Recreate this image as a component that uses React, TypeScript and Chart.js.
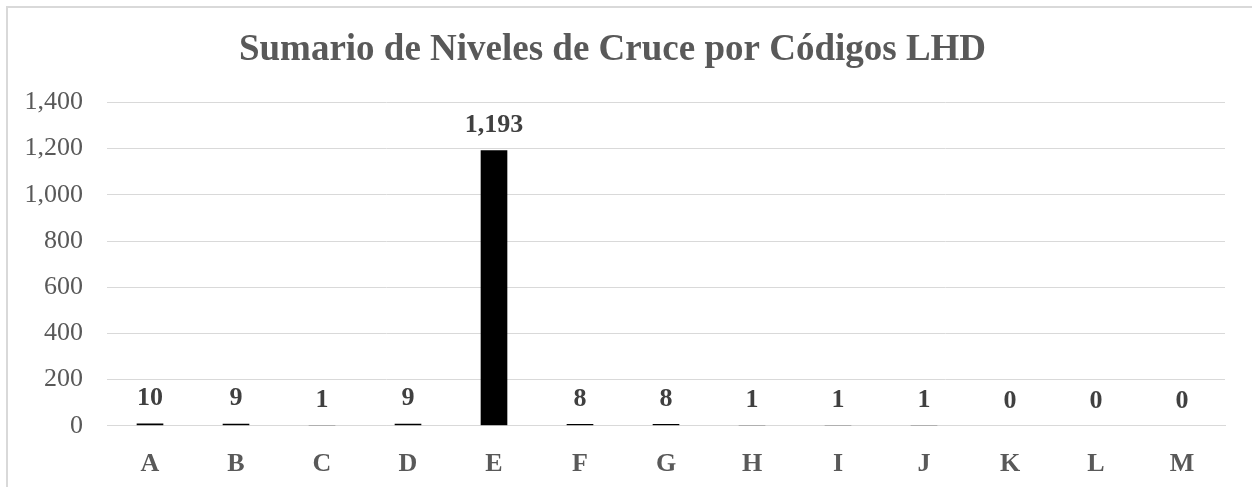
import React, { useEffect, useRef } from "react";
import { Chart, registerables } from "chart.js";

Chart.register(...registerables);

const categories = ["A", "B", "C", "D", "E", "F", "G", "H", "I", "J", "K", "L", "M"];
const values = [10, 9, 1, 9, 1193, 8, 8, 1, 1, 1, 0, 0, 0];
const yTicks = [0, 200, 400, 600, 800, 1000, 1200, 1400];
const chartTitle = "Sumario de Niveles de Cruce por Códigos LHD";

const FONT = "'Liberation Serif', 'Times New Roman', serif";

const dataLabelPlugin = {
  id: "dataLabels",
  afterDatasetsDraw(chart: any) {
    const ctx = chart.ctx;
    const meta = chart.getDatasetMeta(0);
    ctx.save();
    ctx.font = `bold 26px ${FONT}`;
    ctx.fillStyle = "#404040";
    ctx.textAlign = "center";
    ctx.textBaseline = "middle";
    meta.data.forEach((bar: any, i: number) => {
      const v = values[i];
      ctx.fillText(v.toLocaleString("en-US"), bar.x, bar.y - 25);
    });
    ctx.restore();
  },
};

export default function App() {
  const ref = useRef<HTMLCanvasElement>(null);
  useEffect(() => {
    document.body.style.margin = "0";
    const chart = new Chart(ref.current!, {
      type: "bar",
      data: {
        labels: categories,
        datasets: [
          {
            data: values,
            backgroundColor: "#000000",
            borderWidth: 0,
            categoryPercentage: 1,
            barPercentage: 0.31,
          },
        ],
      },
      options: {
        responsive: false,
        animation: false,
        layout: { padding: { top: 28, right: 27, bottom: -16, left: 0 } },
        plugins: {
          legend: { display: false },
          tooltip: { enabled: false },
          title: {
            display: true,
            text: chartTitle,
            color: "#595959",
            font: { family: FONT, size: 37, weight: "bold" },
            padding: { top: 0, bottom: 30 },
          },
        },
        scales: {
          x: {
            grid: { display: false, drawTicks: false },
            border: { color: "#d9d9d9", width: 1 },
            ticks: {
              color: "#595959",
              font: { family: FONT, size: 26, weight: "bold" },
              padding: 23,
            },
          },
          y: {
            min: 0,
            max: 1400,
            afterBuildTicks: (scale: any) => {
              scale.ticks = yTicks.map((v) => ({ value: v }));
            },
            afterFit: (scale: any) => {
              scale.width = 107;
            },
            grid: { color: "#d9d9d9", lineWidth: 1, drawTicks: false },
            border: { display: false },
            ticks: {
              color: "#595959",
              font: { family: FONT, size: 26 },
              padding: 24,
              callback: (v: any) => Number(v).toLocaleString("en-US"),
            },
          },
        },
      },
      plugins: [dataLabelPlugin],
    });
    return () => chart.destroy();
  }, []);

  return (
    <div style={{ position: "relative", width: 1252, height: 487, overflow: "hidden", background: "#fff" }}>
      <div
        style={{
          position: "absolute",
          left: 6,
          top: 6,
          width: 1300,
          height: 600,
          border: "2px solid #d9d9d9",
          boxSizing: "border-box",
        }}
      />
      <canvas ref={ref} width={1252} height={487} style={{ position: "absolute", left: 0, top: 0 }} />
    </div>
  );
}
